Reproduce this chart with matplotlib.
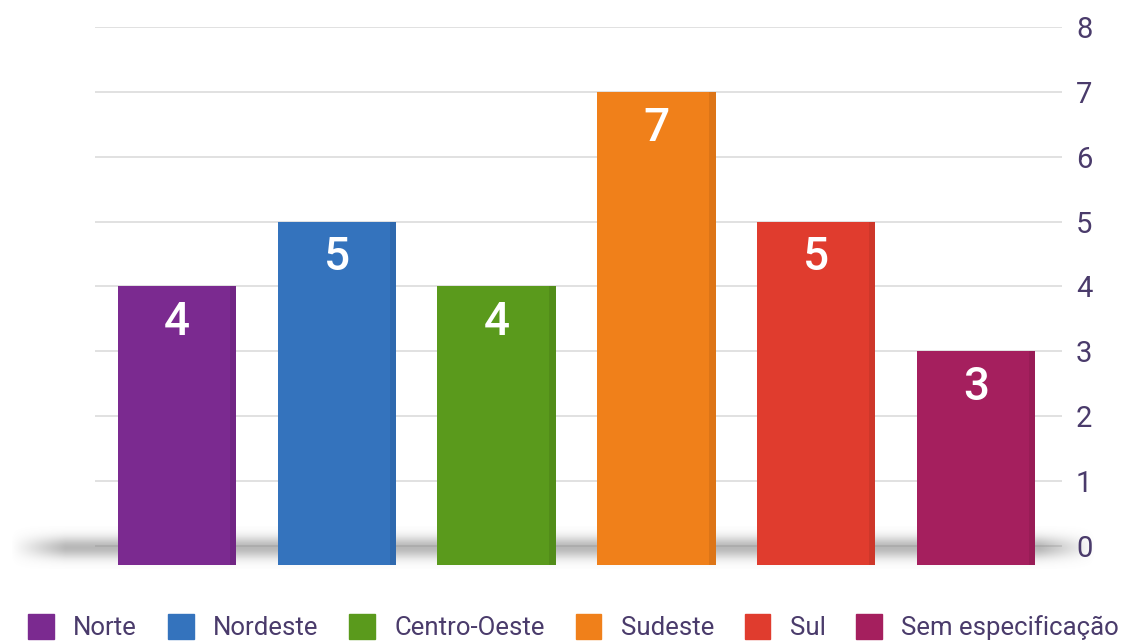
import numpy as np
import matplotlib
matplotlib.use('Agg')
import matplotlib.pyplot as plt

plt.rcParams['font.family'] = ['Roboto', 'DejaVu Sans']

# Data
regions = ['Norte', 'Nordeste', 'Centro-Oeste', 'Sudeste', 'Sul', 'Sem especificação']
counts = [4, 5, 4, 7, 5, 3]
colors = ['#7b2a90', '#3473bd', '#5a9a1c', '#f0801a', '#e03c2e', '#a51f5e']
y_ticks = [0, 1, 2, 3, 4, 5, 6, 7, 8]

text_color = '#4a3b6b'
base = -0.3  # bars sit a bit below zero, like the 3D look

fig = plt.figure(figsize=(11.25, 6.41), dpi=100)
ax = fig.add_axes([95 / 1125, 1 - 568.7 / 641, (1062 - 95) / 1125, (568.7 - 27) / 641])

x = np.arange(len(regions))
ax.set_xlim(-0.513, 5.538)
ax.set_ylim(-0.35, 8)

# gridlines
for t in y_ticks:
    ax.axhline(t, color='#dcdcdc', lw=1.2, zorder=0)

# soft shadow under the bars
xs = np.linspace(0, 1, 400)
ys = np.linspace(-1, 1, 80)
hx = np.clip(xs / 0.05, 0, 1) * np.clip((1 - xs) / 0.05, 0, 1)
vy = np.exp(-(ys / 0.5) ** 2)
shade = np.outer(vy, hx)
rgba = np.zeros(shade.shape + (4,))
rgba[..., :3] = 0.5
rgba[..., 3] = shade * 0.55
ax.imshow(rgba, extent=(-1.045, 5.745, -0.35, 0.3), aspect='auto',
          zorder=1, clip_on=False, interpolation='bilinear')

# bars
bars = ax.bar(x, [c - base for c in counts], bottom=base, width=0.74,
              color=colors, zorder=2, edgecolor='none')
# slightly darker right edge for a bit of depth
for b in bars:
    ax.bar(b.get_x() + b.get_width() - 0.02, b.get_height(), bottom=base,
           width=0.04, color='black', alpha=0.08, zorder=3, edgecolor='none')

for xi, c in zip(x, counts):
    ax.text(xi, c - 0.55, str(c), ha='center', va='center', color='white',
            fontsize=33, fontweight='medium', zorder=4)

ax.set_xticks([])
ax.yaxis.tick_right()
ax.set_yticks(y_ticks)
ax.set_yticklabels([str(t) for t in y_ticks])
ax.tick_params(axis='y', length=0, pad=10, labelsize=21, labelcolor=text_color)
for s in ax.spines.values():
    s.set_visible(False)
ax.set_facecolor('none')

handles = [plt.Rectangle((0, 0), 1, 1, color=c) for c in colors]
fig.legend(handles, regions, loc='lower center', bbox_to_anchor=(0.51, -0.035),
           ncol=6, frameon=False, fontsize=18.5, labelcolor=text_color,
           handlelength=1.0, handleheight=1.1, handletextpad=0.75,
           columnspacing=1.2)

fig.savefig('out.png', dpi=100)
